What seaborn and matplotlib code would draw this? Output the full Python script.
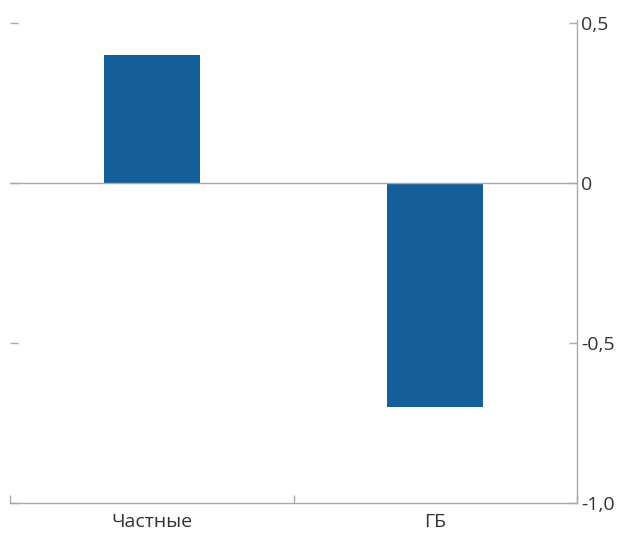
import matplotlib
matplotlib.use("Agg")
from matplotlib import pyplot as plt
from matplotlib.ticker import FixedLocator, FuncFormatter
import seaborn as sns
import pandas as pd

# data
categories = ["Частные", "ГБ"]
values = [0.40, -0.70]
yticks = [-1.0, -0.5, 0.0, 0.5]

sns.set_theme(style="white")
plt.rcParams['font.family'] = ['Open Sans', 'DejaVu Sans']

df = pd.DataFrame({"cat": categories, "val": values})

W, H = 619, 533
fig = plt.figure(figsize=(W / 100, H / 100), dpi=100)
ax = fig.add_axes([10 / W, 30 / H, 567 / W, (503 - 19.8) / H])

sns.barplot(data=df, x="cat", y="val", color="#145E9A", width=0.34,
            saturation=1, linewidth=0, ax=ax)

ax.axhline(0, color="#aaaaaa", lw=1, zorder=3)
ax.set_xlim(-0.5, 1.5)
ax.set_ylim(-1.0, 0.51)
ax.set_xlabel("")
ax.set_ylabel("")

for s in ["top", "left"]:
    ax.spines[s].set_visible(False)
for s in ["bottom", "right"]:
    ax.spines[s].set_color("#aaaaaa")
    ax.spines[s].set_linewidth(1)

ax.set_yticks(yticks)
ax.yaxis.set_major_formatter(FuncFormatter(
    lambda v, p: "0" if v == 0 else f"{v:.1f}".replace(".", ",")))
ax.tick_params(axis="y", left=True, right=True, labelleft=False,
               labelright=True, direction="in", length=6, width=1,
               color="#aaaaaa", labelsize=14, labelcolor="#333333", pad=3)

ax.xaxis.set_minor_locator(FixedLocator([-0.5, 0.5, 1.5]))
ax.tick_params(axis="x", which="major", length=0, labelsize=14,
               labelcolor="#333333", pad=7)
ax.tick_params(axis="x", which="minor", bottom=True, direction="in",
               length=6, width=1, color="#aaaaaa")

fig.savefig("out.png", dpi=100)
